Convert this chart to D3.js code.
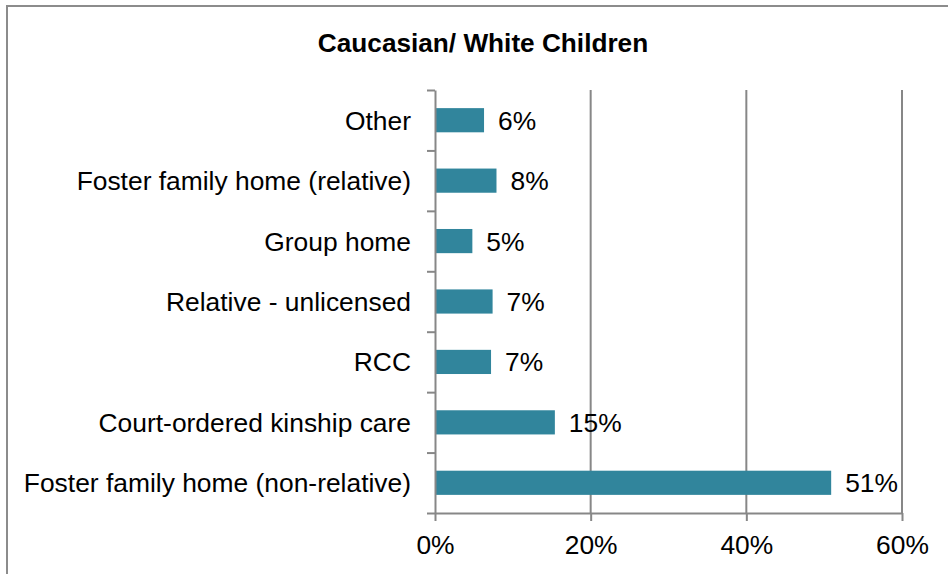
<!DOCTYPE html>
<html>
<head>
<meta charset="utf-8">
<script src="https://cdn.jsdelivr.net/npm/d3@7"></script>
<style>
  html, body { margin: 0; padding: 0; background: #fff; }
  svg { display: block; font-family: Arial, "Liberation Sans", sans-serif; }
</style>
</head>
<body>
<svg id="chart" width="948" height="574"></svg>
<script>
const title = "Caucasian/ White Children";
const categories = [
  "Other",
  "Foster family home (relative)",
  "Group home",
  "Relative - unlicensed",
  "RCC",
  "Court-ordered kinship care",
  "Foster family home (non-relative)"
];
const values = [6.3, 7.9, 4.8, 7.4, 7.2, 15.4, 50.9];
const xTicks = [0, 20, 40, 60];

const svg = d3.select("#chart");
const plot = { left: 435, right: 902, top: 90, bottom: 513 };
const gridColor = "#878787";
const barColor = "#31859C";
const fs = 26.4;

// outer chart border (extends past right/bottom of the viewport)
svg.append("rect")
  .attr("x", 7).attr("y", 6)
  .attr("width", 960).attr("height", 620)
  .attr("fill", "#fff")
  .attr("stroke", "#8c8c8c").attr("stroke-width", 2);

svg.append("text")
  .attr("x", 483).attr("y", 52)
  .attr("text-anchor", "middle")
  .attr("font-size", 26.2).attr("font-weight", "bold")
  .attr("fill", "#000")
  .text(title);

const x = d3.scaleLinear().domain([0, 60]).range([plot.left, plot.right]);
const y = d3.scaleBand().domain(categories)
  .range([plot.top, plot.bottom])
  .paddingInner(0.6).paddingOuter(0.3);

// vertical gridlines
svg.append("g").selectAll("line")
  .data(xTicks.filter(d => d > 0))
  .join("line")
  .attr("x1", d => x(d)).attr("x2", d => x(d))
  .attr("y1", plot.top).attr("y2", plot.bottom)
  .attr("stroke", gridColor).attr("stroke-width", 2);

// bars
svg.append("g").selectAll("rect")
  .data(categories)
  .join("rect")
  .attr("x", x(0))
  .attr("y", d => y(d))
  .attr("width", (d, i) => x(values[i]) - x(0))
  .attr("height", y.bandwidth())
  .attr("fill", barColor);

// data labels
svg.append("g").selectAll("text")
  .data(categories)
  .join("text")
  .attr("x", (d, i) => x(values[i]) + 14)
  .attr("y", d => y(d) + y.bandwidth() / 2)
  .attr("dy", "0.36em")
  .attr("font-size", fs)
  .attr("fill", "#000")
  .text((d, i) => Math.round(values[i]) + "%");

// x axis
const xAxis = svg.append("g")
  .attr("transform", `translate(0,${plot.bottom})`)
  .call(d3.axisBottom(x).tickValues(xTicks).tickSize(8).tickSizeOuter(0)
    .tickPadding(14).tickFormat(d => d + "%"));
xAxis.select(".domain").attr("stroke", gridColor).attr("stroke-width", 2);
xAxis.selectAll(".tick line").attr("stroke", gridColor).attr("stroke-width", 2);
xAxis.selectAll(".tick text").attr("font-size", fs).attr("fill", "#000")
  .attr("font-family", "Arial, 'Liberation Sans', sans-serif");

// y axis: ticks at band boundaries
const yIdx = d3.scaleLinear().domain([0, categories.length]).range([plot.top, plot.bottom]);
const yAxis = svg.append("g")
  .attr("transform", `translate(${plot.left},0)`)
  .call(d3.axisLeft(yIdx).tickValues(d3.range(categories.length + 1))
    .tickSize(8).tickSizeOuter(0).tickFormat(""));
yAxis.select(".domain").attr("stroke", gridColor).attr("stroke-width", 2);
yAxis.selectAll(".tick line").attr("stroke", gridColor).attr("stroke-width", 2);

// category labels
svg.append("g").selectAll("text")
  .data(categories)
  .join("text")
  .attr("x", plot.left - 24)
  .attr("y", d => y(d) + y.bandwidth() / 2)
  .attr("dy", "0.36em")
  .attr("text-anchor", "end")
  .attr("font-size", fs)
  .attr("fill", "#000")
  .text(d => d);
</script>
</body>
</html>
